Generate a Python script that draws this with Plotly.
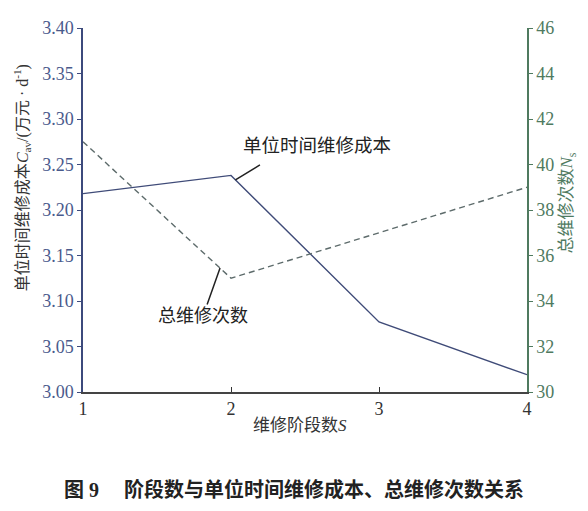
import plotly.graph_objects as go

stages = [1, 2, 3, 4]
unit_cost = [3.218, 3.238, 3.077, 3.019]
total_count = [41.0, 35.0, 37.0, 39.0]
left_ticks = [3.00, 3.05, 3.10, 3.15, 3.20, 3.25, 3.30, 3.35, 3.40]
left_tick_text = ["3.00", "3.05", "3.10", "3.15", "3.20", "3.25", "3.30", "3.35", "3.40"]
right_ticks = [30, 32, 34, 36, 38, 40, 42, 44, 46]

NAVY = "#3c4a7c"
GREEN = "#4f7a5f"
SERIF = "Liberation Serif, Noto Sans CJK SC"

fig = go.Figure()
fig.add_trace(go.Scatter(x=stages, y=unit_cost, mode="lines",
                         line=dict(color="#3f4b78", width=1.4), yaxis="y"))
fig.add_trace(go.Scatter(x=stages, y=total_count, mode="lines",
                         line=dict(color="#5d6b6b", width=1.4, dash="6px,4px"), yaxis="y2"))

fig.update_layout(
    width=580, height=503,
    margin=dict(l=75, r=61, t=20, b=119),
    paper_bgcolor="white", plot_bgcolor="white",
    showlegend=False,
    font=dict(family=SERIF, size=17, color="#333"),
    xaxis=dict(range=[1, 4], tickvals=stages, ticks="inside", ticklen=5,
               tickcolor="#333", showline=True, linecolor="#444", linewidth=1.5,
               showgrid=False, zeroline=False, automargin=False,
               tickfont=dict(family=SERIF, size=18, color="#333")),
    yaxis=dict(range=[3.0, 3.4], tickvals=left_ticks, ticktext=left_tick_text,
               ticks="outside", ticklen=4, tickcolor=NAVY,
               showline=True, linecolor=NAVY, linewidth=1.5,
               showgrid=False, zeroline=False, automargin=False,
               tickfont=dict(family=SERIF, size=18, color="#4a5a8c")),
    yaxis2=dict(range=[30, 46], tickvals=right_ticks, overlaying="y", side="right",
                ticks="outside", ticklen=4, tickcolor=GREEN,
                showline=True, linecolor=GREEN, linewidth=1.5,
                showgrid=False, zeroline=False, automargin=False,
                tickfont=dict(family=SERIF, size=18, color=GREEN)),
)

# axis titles
fig.add_annotation(text="维修阶段数<i>S</i>", xref="paper", yref="paper",
                   x=0.489, y=-0.091, xanchor="center", yanchor="middle", showarrow=False,
                   font=dict(family=SERIF, size=17, color="#333"))
fig.add_annotation(text="单位时间维修成本<i>C</i><sub>av</sub>/(万元 · d<sup>-1</sup>)",
                   xref="paper", yref="paper", x=-0.137, y=0.588,
                   xanchor="center", yanchor="middle",
                   textangle=-90, showarrow=False,
                   font=dict(family=SERIF, size=16, color="#333"))
fig.add_annotation(text="总维修次数<i>N</i><sub>s</sub>",
                   xref="paper", yref="paper", x=1.092, y=0.52,
                   xanchor="center", yanchor="middle",
                   textangle=-90, showarrow=False,
                   font=dict(family=SERIF, size=17, color=GREEN))

# series labels with leader lines
fig.add_annotation(x=2.03, y=3.233, xref="x", yref="y", text="",
                   showarrow=True, arrowhead=0, arrowwidth=1.5, arrowcolor="#222",
                   ax=26, ay=-16)
fig.add_annotation(text="单位时间维修成本", x=2.065, y=3.270, xref="x", yref="y",
                   xanchor="left", yanchor="middle", showarrow=False,
                   font=dict(family=SERIF, size=18.5, color="#222"))
fig.add_annotation(text="总维修次数", x=1.926, y=35.45, xref="x", yref="y2",
                   showarrow=True, arrowhead=0, arrowwidth=1.5, arrowcolor="#222",
                   ax=-17, ay=48,
                   font=dict(family=SERIF, size=18, color="#222"))

# caption
fig.add_annotation(text="<b>图 9</b>　 <b>阶段数与单位时间维修成本、总维修次数关系</b>",
                   xref="paper", yref="paper", x=0.475, y=-0.269,
                   xanchor="center", yanchor="middle", showarrow=False,
                   font=dict(family=SERIF, size=20, color="#222"))

fig.write_html("out.html")
